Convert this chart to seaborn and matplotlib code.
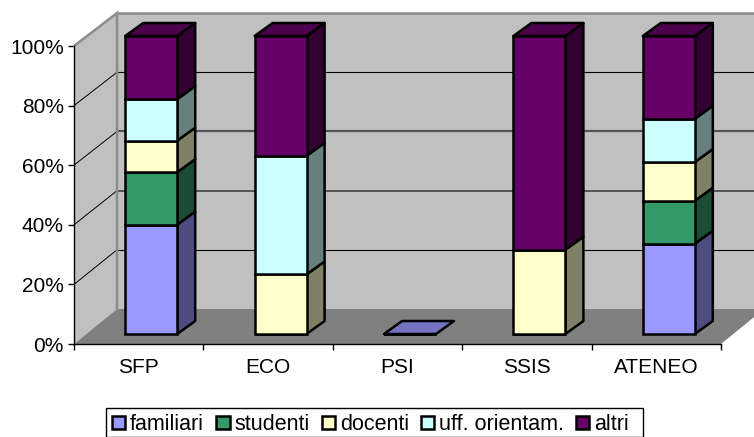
import numpy as np
import matplotlib
matplotlib.use("Agg")
import matplotlib.pyplot as plt
from matplotlib.patches import Polygon, Patch, Rectangle
import seaborn as sns

categories = ["SFP", "ECO", "PSI", "SSIS", "ATENEO"]
familiari = [36.7, 0, 0, 0, 30.3]
studenti = [17.6, 0, 0, 0, 14.4]
docenti = [10.6, 20, 0, 28.3, 13.0]
uff_orientam = [13.9, 39.8, 0, 0, 14.5]
altri = [21.2, 40.2, 0, 71.7, 27.8]
series_names = ["familiari", "studenti", "docenti", "uff. orientam.", "altri"]
series_values = [familiari, studenti, docenti, uff_orientam, altri]
front_colors = ["#9999ff", "#339966", "#ffffcc", "#ccffff", "#660066"]
side_colors = ["#4d4d80", "#1a4d33", "#808066", "#668080", "#330033"]
top_colors = ["#7373bf", "#267350", "#bfbf99", "#99bfbf", "#4d004d"]
y_ticks = [0, 20, 40, 60, 80, 100]
y_labels = ["0%", "20%", "40%", "60%", "80%", "100%"]
grid_styles = {20: ("black", 0.8), 40: ("#555555", 1.4), 60: ("#555555", 1.6), 80: ("black", 0.8)}

sns.set_theme(style="white")
plt.rcParams["font.family"] = ["Liberation Sans", "DejaVu Sans"]

W, H = 754, 437
fig = plt.figure(figsize=(W / 100, H / 100), dpi=100)
fig.patch.set_facecolor("white")


def axes_rect(left, bottom_px, right, top_px):
    return [left / W, 1 - bottom_px / H, (right - left) / W, (bottom_px - top_px) / H]


ax = fig.add_axes(axes_rect(74, 344, 721, 46))
ax_bar = fig.add_axes(axes_rect(86.5, 334, 733.5, 36))
ax_bar.patch.set_alpha(0)

# 3-D box of the plot area
xmin, xmax = -0.5, 4.5
wall_dx, wall_dy, wall_s = 43 / 129.4, 35 / 2.98, 0.993
ax.set_xlim(xmin, xmax)
ax.set_ylim(0, 100)
ax.set_facecolor("none")


def back(v):
    return v * wall_s + wall_dy


kw = dict(clip_on=False, zorder=1)
ax.add_patch(Polygon([(xmin, 0), (xmin + wall_dx, back(0)), (xmin + wall_dx, back(100)), (xmin, 100)],
                     fc="#c0c0c0", ec="none", **kw))
ax.add_patch(Polygon([(xmin + wall_dx, back(0)), (xmax + wall_dx, back(0)), (xmax + wall_dx, back(100)), (xmin + wall_dx, back(100))],
                     fc="#c0c0c0", ec="none", **kw))
ax.add_patch(Polygon([(xmin, 0), (xmin + wall_dx, back(0)), (xmax + wall_dx, back(0)), (xmax, 0)],
                     fc="#808080", ec="none", **kw))
for v in y_ticks[1:-1]:
    c, lw = grid_styles[v]
    ax.plot([xmin, xmin + wall_dx], [v, back(v)], color="black", lw=0.7, clip_on=False, zorder=2)
    ax.plot([xmin + wall_dx, xmax + wall_dx], [back(v), back(v)], color=c, lw=lw, clip_on=False, zorder=2)
ax.plot([xmin, xmin + wall_dx, xmin + wall_dx], [100, back(100), back(0)], color="#8c8c8c", lw=1.8,
        clip_on=False, zorder=3, solid_joinstyle="miter")
ax.plot([xmin + wall_dx, xmax + wall_dx], [back(100), back(100)], color="#8c8c8c", lw=1.8, clip_on=False, zorder=3)

for s in ["top", "right"]:
    ax.spines[s].set_visible(False)
for s in ["left", "bottom"]:
    ax.spines[s].set_color("black")
    ax.spines[s].set_linewidth(1.0)
    ax.spines[s].set_zorder(5)
ax.set_yticks(y_ticks, y_labels)
ax.set_xticks(np.arange(xmin, xmax + 0.5, 1), [""] * 6)
ax.set_xticks(np.arange(5), categories, minor=True)
ax.tick_params(axis="y", which="major", left=True, length=4.2, width=1, color="black", labelsize=15, pad=3.2, labelcolor="black")
ax.tick_params(axis="x", which="major", bottom=True, length=4, width=1, color="black")
ax.tick_params(axis="x", which="minor", bottom=False, length=0, labelsize=15, pad=10, labelcolor="black")

# Stacked front faces
bar_width = 52 / 129.4
bottom = np.zeros(5)
lw_bar = 1.8
for vals, col in zip(series_values, front_colors):
    sns.barplot(x=categories, y=vals, bottom=bottom, color=col, saturation=1, width=bar_width,
                edgecolor="black", linewidth=lw_bar, ax=ax_bar, zorder=4, clip_on=False)
    bottom = bottom + np.array(vals)
ax_bar.set_xlim(xmin, xmax)
ax_bar.set_ylim(0, 100)
ax_bar.axis("off")

# Side and top faces derived from the same values
depth_x, depth_y = 18 / 129.4, 13 / 2.98
pk = dict(ec="black", lw=lw_bar, clip_on=False, zorder=3, joinstyle="round")
bottom = np.zeros(5)
for vals, side in zip(series_values, side_colors):
    for i, v in enumerate(vals):
        if v > 0:
            x1 = i + bar_width / 2
            b, t = bottom[i], bottom[i] + v
            ax_bar.add_patch(Polygon([(x1, b), (x1 + depth_x, b + depth_y), (x1 + depth_x, t + depth_y), (x1, t)],
                                     fc=side, **pk))
    bottom = bottom + np.array(vals)
for i in range(5):
    total = bottom[i]
    idx = max((k for k in range(5) if series_values[k][i] > 0), default=0)
    x0, x1 = i - bar_width / 2, i + bar_width / 2
    ax_bar.add_patch(Polygon([(x0, total), (x1, total), (x1 + depth_x, total + depth_y), (x0 + depth_x, total + depth_y)],
                             fc=top_colors[idx], **pk))

fig.add_artist(Rectangle((106 / W, 1 - 436.5 / H), (643 - 106) / W, 28.5 / H, transform=fig.transFigure,
                         fc="white", ec="black", lw=1.0, zorder=8))
handles = [Patch(facecolor=c, edgecolor="black", linewidth=1.8) for c in front_colors]
leg = fig.legend(handles, series_names, loc="upper left", bbox_to_anchor=(109.5 / W, 1 - 411.5 / H), ncol=5,
                 fontsize=15.5, frameon=False, borderaxespad=0, borderpad=0.12, handlelength=0.62, handleheight=0.62,
                 handletextpad=0.22, columnspacing=0.56, labelspacing=0)
leg.set_zorder(9)
for t in leg.get_texts():
    t.set_color("black")

fig.savefig("out.png", dpi=100)
